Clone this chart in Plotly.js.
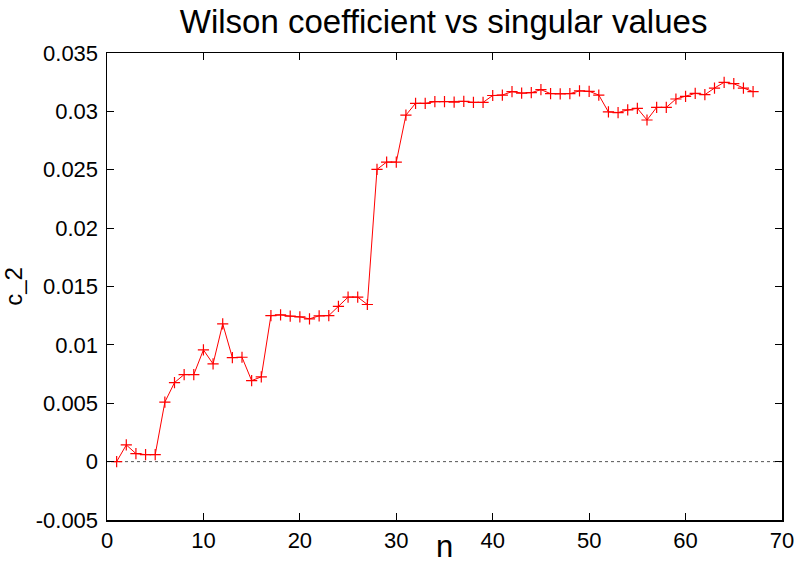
<!DOCTYPE html>
<html>
<head>
<meta charset="utf-8">
<script src="https://cdn.plot.ly/plotly-3.0.1.min.js"></script>
<style>html,body{margin:0;padding:0;background:#fff}#chart{width:795px;height:564px}</style>
</head>
<body>
<div id="chart"></div>
<script>
const n = [];
for (let i = 1; i <= 67; i++) n.push(i);
const c2 = [
  0.0000, 0.00143, 0.00069, 0.00060, 0.00060, 0.00510, 0.00677, 0.00746, 0.00746, 0.00957,
  0.00837, 0.01180, 0.00891, 0.00894, 0.00694, 0.00726, 0.01251, 0.01257, 0.01246, 0.01240,
  0.01223, 0.01249, 0.01251, 0.01329, 0.01409, 0.01409, 0.01346, 0.02503, 0.02566, 0.02566,
  0.02968, 0.03069, 0.03069, 0.03083, 0.03083, 0.03080, 0.03086, 0.03077, 0.03077, 0.03136,
  0.03140, 0.03169, 0.03157, 0.03160, 0.03186, 0.03152, 0.03150, 0.03152, 0.03175, 0.03172,
  0.03140, 0.02995, 0.02990, 0.03012, 0.03026, 0.02926, 0.03034, 0.03034, 0.03106, 0.03129,
  0.03154, 0.03143, 0.03200, 0.03249, 0.03237, 0.03200, 0.03169
];
const yTickVals = [-0.005, 0, 0.005, 0.01, 0.015, 0.02, 0.025, 0.03, 0.035];
const yTickText = ["-0.005", "0", "0.005", "0.01", "0.015", "0.02", "0.025", "0.03", "0.035"];
const xTickVals = [0, 10, 20, 30, 40, 50, 60, 70];
const xTickText = ["0", "10", "20", "30", "40", "50", "60", "70"];

const font = "Liberation Sans, Arial, sans-serif";
const data = [{
  x: n, y: c2, type: 'scatter', mode: 'lines+markers',
  line: {color: '#ff0000', width: 1},
  marker: {symbol: 'cross-thin-open', size: 8, color: '#ff0000', line: {color: '#ff0000', width: 1.2}},
  showlegend: false, hoverinfo: 'skip'
}];
const axisCommon = {
  showgrid: false, zeroline: false, showline: true, linecolor: '#000', linewidth: 1.5,
  mirror: 'ticks', ticks: 'inside', ticklen: 7, tickwidth: 1, tickcolor: '#000',
  tickfont: {family: font, size: 22, color: '#000'}
};
const layout = {
  width: 795, height: 564,
  margin: {l: 107, r: 13, t: 53, b: 44},
  paper_bgcolor: '#fff', plot_bgcolor: '#fff',
  title: {text: 'Wilson coefficient vs singular values', font: {family: font, size: 33, color: '#000'},
          x: 0.558, xanchor: 'center', y: 0.962, yanchor: 'middle'},
  xaxis: Object.assign({}, axisCommon, {
    range: [0, 70], tickmode: 'array', tickvals: xTickVals, ticktext: xTickText,
    title: {text: 'n', font: {family: font, size: 31, color: '#000'}, standoff: 0}
  }),
  yaxis: Object.assign({}, axisCommon, {
    range: [-0.005, 0.035], tickmode: 'array', tickvals: yTickVals, ticktext: yTickText,
    ticklabelstandoff: 3,
    title: {text: 'c_2', font: {family: font, size: 24, color: '#000'}, standoff: 10}
  }),
  shapes: [{type: 'line', xref: 'x', yref: 'y', x0: 0, x1: 70, y0: 0, y1: 0,
            line: {color: '#555', width: 1, dash: 'dot'}, layer: 'below'}]
};
Plotly.newPlot('chart', data, layout, {displayModeBar: false, staticPlot: true});
</script>
</body>
</html>
